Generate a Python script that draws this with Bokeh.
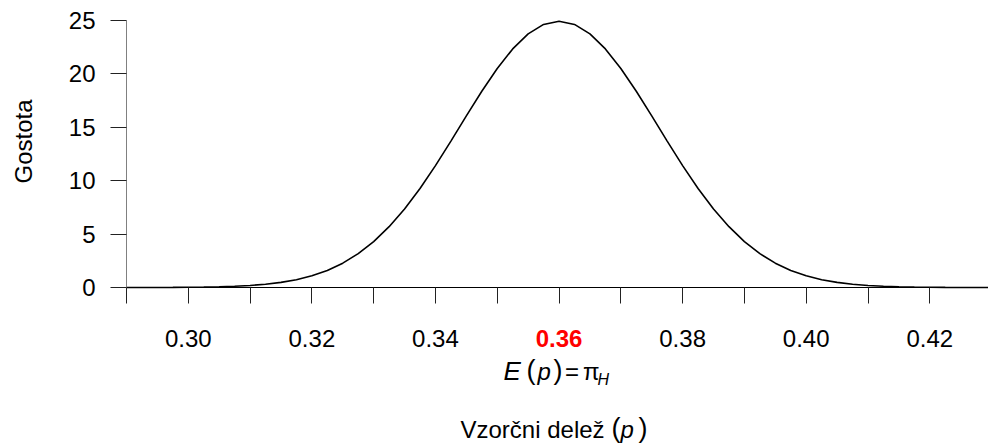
import math
from bokeh.plotting import figure
from bokeh.models import Label, FixedTicker, PrintfTickFormatter, Range1d
from bokeh.embed import file_html
from bokeh.resources import INLINE

# ---- data ----
sample_x = [
    0.2900, 0.2925, 0.2950, 0.2975, 0.3000, 0.3025, 0.3050, 0.3075, 0.3100, 0.3125,
    0.3150, 0.3175, 0.3200, 0.3225, 0.3250, 0.3275, 0.3300, 0.3325, 0.3350, 0.3375,
    0.3400, 0.3425, 0.3450, 0.3475, 0.3500, 0.3525, 0.3550, 0.3575, 0.3600, 0.3625,
    0.3650, 0.3675, 0.3700, 0.3725, 0.3750, 0.3775, 0.3800, 0.3825, 0.3850, 0.3875,
    0.3900, 0.3925, 0.3950, 0.3975, 0.4000, 0.4025, 0.4050, 0.4075, 0.4100, 0.4125,
    0.4150, 0.4175, 0.4200, 0.4225, 0.4250, 0.4275, 0.4300,
]
density = [
    0.002, 0.003, 0.007, 0.012, 0.022, 0.039, 0.068, 0.115, 0.189, 0.304,
    0.478, 0.732, 1.096, 1.600, 2.279, 3.168, 4.299, 5.693, 7.356, 9.276,
    11.416, 13.709, 16.068, 18.376, 20.510, 22.340, 23.746, 24.632, 24.934, 24.632,
    23.746, 22.340, 20.510, 18.376, 16.068, 13.709, 11.416, 9.276, 7.356, 5.693,
    4.299, 3.168, 2.279, 1.600, 1.096, 0.732, 0.478, 0.304, 0.189, 0.115,
    0.068, 0.039, 0.022, 0.012, 0.007, 0.003, 0.002,
]
x_labeled_ticks = [0.30, 0.32, 0.34, 0.38, 0.40, 0.42]
x_unlabeled_ticks = [0.29, 0.31, 0.33, 0.35, 0.36, 0.37, 0.39, 0.41]
highlight_value = 0.36
y_ticks = [0, 5, 10, 15, 20, 25]

y_axis_title = "Gostota"
x_axis_title = "Vzorčni delež"

# ---- layout ----
W, H = 988, 443
FL, FR, FT, FB = 126, 988, 20, 287      # plotting area in canvas pixels
X0, X1 = 0.29, 0.4295                   # data values at FL / FR
Y0, Y1 = 0, 25                          # data values at FB / FT
FONT = "Liberation Sans"

sx = (FR - FL) / (X1 - X0)
sy = (FB - FT) / (Y1 - Y0)

# the frame covers the whole canvas; axes are pinned with fixed_location
p = figure(width=W, height=H,
           x_range=Range1d(X0 - FL / sx, X1 + (W - FR) / sx),
           y_range=Range1d(Y0 - (H - FB) / sy, Y1 + FT / sy),
           output_backend="svg", toolbar_location=None,
           min_border=0, min_border_left=0, min_border_right=0,
           min_border_top=0, min_border_bottom=0)
p.outline_line_color = None
p.grid.visible = False
p.background_fill_color = "white"
p.border_fill_color = "white"

# x axis
xa = p.xaxis[0]
xa.fixed_location = Y0
xa.bounds = (X0, X1 + (W - FR) / sx)
xa.ticker = FixedTicker(ticks=x_labeled_ticks, minor_ticks=x_unlabeled_ticks)
xa.formatter = PrintfTickFormatter(format="%.2f")
xa.axis_line_color = "black"
xa.major_tick_line_color = "#222222"
xa.minor_tick_line_color = "#222222"
xa.major_tick_out = 16
xa.major_tick_in = 0
xa.minor_tick_out = 16
xa.minor_tick_in = 0
xa.major_label_text_font = FONT
xa.major_label_text_font_size = "24px"
xa.major_label_text_color = "black"
xa.major_label_standoff = 26

# y axis
ya = p.yaxis[0]
ya.fixed_location = X0
ya.bounds = (Y0, Y1)
ya.ticker = FixedTicker(ticks=y_ticks)
ya.axis_line_color = "#808080"
ya.major_tick_line_color = "#222222"
ya.minor_tick_line_color = None
ya.major_tick_out = 16
ya.major_tick_in = 0
ya.major_label_text_font = FONT
ya.major_label_text_font_size = "24px"
ya.major_label_text_color = "black"
ya.major_label_standoff = 15

# density curve
p.line(sample_x, density, line_color="black", line_width=1.6)


def add_label(text, xpx, ypx, size="24px", style="normal", color="black",
              align="left", angle=0.0, x_data=None):
    # xpx, ypx: canvas pixels from the top-left corner (ypx = vertical middle)
    p.add_layout(Label(x=xpx if x_data is None else x_data, y=ypx,
                       x_units="canvas" if x_data is None else "data",
                       y_units="canvas",
                       text=text, text_font=FONT, text_font_size=size,
                       text_font_style=style, text_color=color,
                       text_align=align, text_baseline="middle", angle=angle))


# highlighted expected value tick label
add_label(f"{highlight_value:.2f}", 0, 338, style="bold", color="#FF0000",
          align="center", x_data=highlight_value)

# E(p) = pi_H
add_label("E", 503, 370.5, size="26px", style="italic")
add_label("(", 526, 369.5, size="27px")
add_label("p", 537, 371, style="italic")
add_label(")", 553, 369.5, size="27px")
add_label("=", 564.5, 371)
add_label("π", 582.5, 371)
add_label("H", 597, 378.5, size="16px", style="italic")

# x axis title: Vzorčni delež (p)
add_label(x_axis_title, 460, 429)
add_label("(", 611, 427, size="27px")
add_label("p", 620, 429, style="italic")
add_label(")", 638, 427, size="27px")

# y axis title
add_label(y_axis_title, 23, 141, align="center", angle=math.pi / 2)

open("out.html", "w").write(file_html(p, INLINE))
